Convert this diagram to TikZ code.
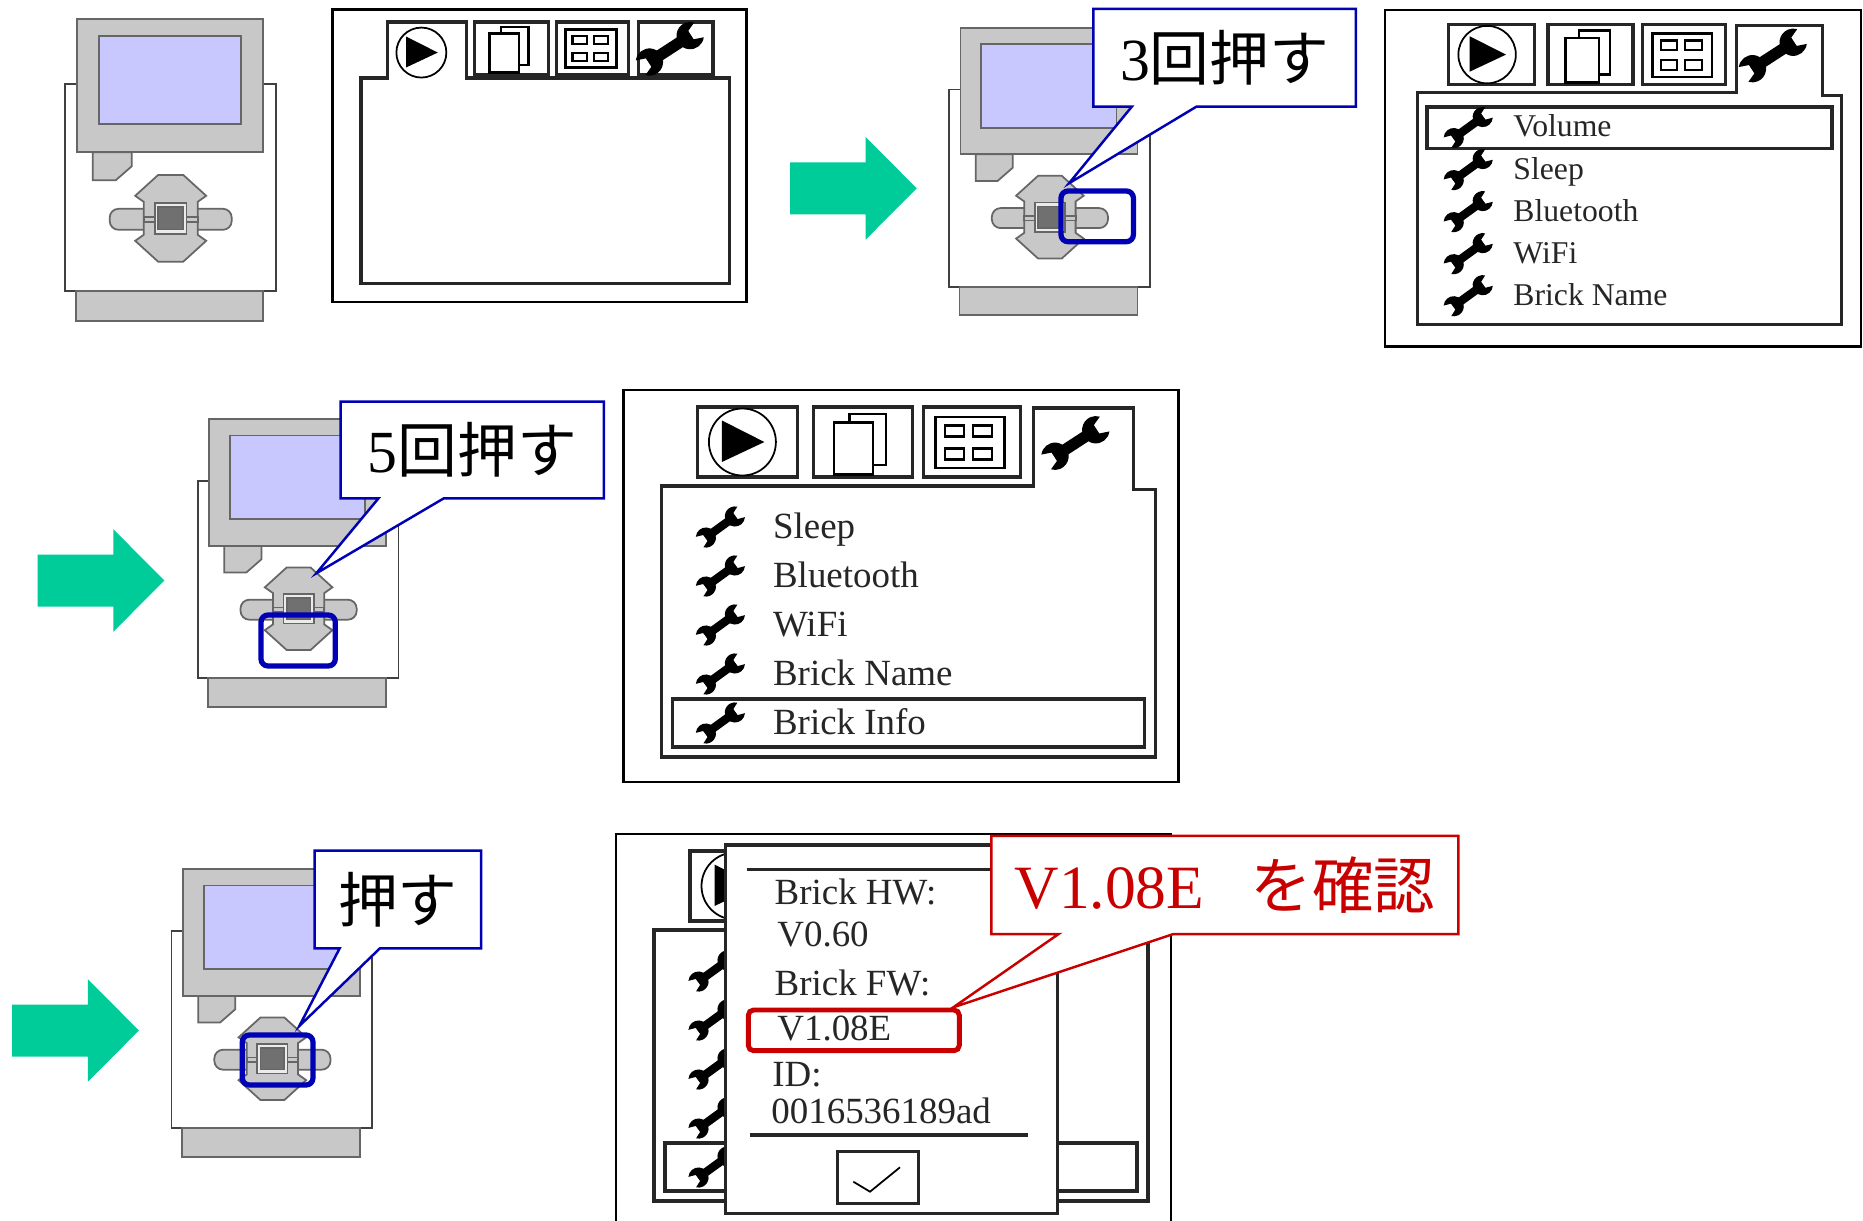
\documentclass[tikz,border=0pt]{standalone}
\usepackage{fontspec}
\setmainfont{Liberation Serif}
\newfontfamily\jpfont{Noto Sans CJK JP}
\usetikzlibrary{shapes.callouts}

\definecolor{bricklight}{RGB}{200,200,200}
\definecolor{brickdark}{RGB}{112,112,112}
\definecolor{lcdblue}{RGB}{200,200,255}
\definecolor{arrowgreen}{RGB}{0,204,153}
\definecolor{markblue}{RGB}{0,0,180}
\definecolor{markred}{RGB}{200,0,0}

% EV3 brick, top left corner at (#1,#2), scaled by #3
\newcommand{\drawbrick}[3]{%
  \begin{scope}[shift={(#1,#2)}, scale=#3]
    \draw[brickbody] (0,65) rectangle (211,272);
    \draw[brickpart] (11,272) rectangle (198,302);
    \draw[brickpart] (12,0) rectangle (198,133);
    \draw[lcdscreen] (34,17) rectangle (176,105);
    \draw[brickpart] (28,133) -- (67,133) -- (67,147) -- (51,161) -- (28,161) -- cycle;
    % button pad
    \begin{scope}[shift={(106,199)}]
      \draw[brickpart, rounded corners=2.5pt] (-27,-9.5) -- (-61,-9.5) -- (-61,11.5) -- (-27,11.5);
      \draw[brickpart, rounded corners=2.5pt] (27,-9.5) -- (61,-9.5) -- (61,11.5) -- (27,11.5);
      \draw[brickpart] (-12.5,-43.4) -- (12.5,-43.4) -- (35.5,-22.5) -- (27,-16.5) -- (27,16.5)
        -- (35.5,22.5) -- (12.5,43.4) -- (-12.5,43.4) -- (-35.5,22.5) -- (-27,16.5)
        -- (-27,-16.5) -- (-35.5,-22.5) -- cycle;
      \draw[brickpart] (-27,-1.2) rectangle (27,3.4);
      \draw[brickpart, fill=black!8] (-15.8,-15.4) rectangle (15.8,15.4);
      \draw[brickpart, fill=brickdark] (-12.5,-11.2) rectangle (12.5,11.2);
    \end{scope}
  \end{scope}}

% display with its four tabs, #1 = open tab (1 or 4)
\newcommand{\lcdtabs}[1]{%
  \draw[lcdframe] (0,0) rectangle (555,392);
  \ifnum#1=1
    \draw[lcdline] (38,92) -- (74,92) -- (74,17) -- (180,17) -- (180,92) -- (532,92) -- (532,367) -- (38,367) -- cycle;
    \def\playy{58}
  \else
    \draw[lcdline] (74,17) rectangle (174,87);
    \def\playy{52}
  \fi
  \draw[lcdline] (190,17) rectangle (289,87);
  \draw[lcdline] (300,17) rectangle (397,87);
  \ifnum#1=4
    \draw[lcdline] (38,96) -- (410,96) -- (410,18) -- (510,18) -- (510,99.5) -- (532,99.5) -- (532,367) -- (38,367) -- cycle;
  \else
    \draw[lcdline] (410,17) rectangle (510,87);
  \fi
  % tab icons
  \draw[line width=0.5pt] (119,\playy) circle[radius=33.5];
  \fill (98.5,{\playy-21.5}) -- (98.5,{\playy+20}) -- (141,\playy) -- cycle;
  \draw[line width=0.7pt] (226,24) rectangle (262.5,75);
  \draw[line width=0.7pt, fill=white] (210.5,32.5) rectangle (249.5,84.5);
  \draw[line width=0.8pt] (312,27) rectangle (381,78);
  \foreach \gx in {321.5,350}
    \foreach \gy in {35.5,58.5}
      \draw[line width=0.6pt] (\gx,\gy) rectangle ++(19,11);
  \pic[scale=76, rotate=33] at (452,53) {wrench};}

% menu line #1 with node name #2 and label #3
\newcommand{\menuitem}[3]{%
  \pic[scale=56, rotate=36] at (97,{137+49*(#1-1)}) {wrench};
  \node[menutext] (#2) at (149,{148+49*(#1-1)}) {#3};}

% frame round the selected menu line
\newcommand{\menupick}[1]{%
  \draw[lcdline] (49,{113+49*(#1-1)}) rectangle (521,{161+49*(#1-1)});}

\begin{document}
\begin{tikzpicture}[
    x=0.01cm, y=-0.01cm,
    brickbody/.style={draw=black!75, fill=white, line width=0.5pt},
    brickpart/.style={draw=black!60, fill=bricklight, line width=0.5pt},
    lcdscreen/.style={draw=black!60, fill=lcdblue, line width=0.5pt},
    lcdframe/.style={draw=black, line width=0.7pt},
    lcdline/.style={draw=black!85, line width=0.9pt},
    menutext/.style={anchor=base west, inner sep=0pt, transform shape,
      text=black!85, font=\fontsize{10.5}{12}\selectfont},
    infotext/.style={anchor=base west, inner sep=0pt,
      text=black!85, font=\fontsize{10.5}{12}\selectfont},
    bluemark/.style={draw=markblue, line width=1.5pt, rounded corners=2pt},
    redmark/.style={draw=markred, line width=1.4pt, rounded corners=1.5pt},
    tipbox/.style={rectangle callout, fill=white, line width=0.7pt, inner sep=0pt},
    bluetip/.style={tipbox, draw=markblue, font=\fontsize{17}{20}\selectfont},
    redtip/.style={tipbox, draw=markred, text=markred, font=\fontsize{17.5}{20}\selectfont},
    wrench/.pic={
      \fill (-0.33,-0.075) rectangle (0.33,0.075);
      \fill (0.32,0) ++(40:0.18) arc[start angle=40, end angle=320, radius=0.18]
        -- (0.33,-0.065) -- (0.33,0.065) -- cycle;
      \fill (-0.32,0) ++(220:0.18) arc[start angle=220, end angle=500, radius=0.18]
        -- (-0.33,0.065) -- (-0.33,-0.065) -- cycle;
    },
    nextarrow/.pic={
      \fill[arrowgreen] (0,-26) -- (75.7,-26) -- (75.7,-51.3) -- (126.7,0)
        -- (75.7,51.3) -- (75.7,26) -- (0,26) -- cycle;
    }
  ]
  \useasboundingbox (0,0) rectangle (1863,1221);

% --- first row: start screen, right button ---
  \drawbrick{64.7}{19.3}{1}
  \begin{scope}[shift={(332.6,9.3)}, scale=0.746]
    \lcdtabs{1}
  \end{scope}

  \pic (arrow1) at (790,188.3) {nextarrow};
  \drawbrick{949}{27.7}{0.952}
  \draw[bluemark] (1061,191) rectangle (1133.4,241.7);
  \coordinate (righttip) at (1069,183.3);
  \node[bluetip, callout absolute pointer={(righttip)}, callout pointer width=0.645cm,
    minimum width=2.623cm, minimum height=0.977cm] (press3) at (1224.65,57.85) {3{\jpfont 回押す}};

  \begin{scope}[shift={(1385,10)}, scale=0.858]
    \lcdtabs{4}
    \menupick{1}
    \menuitem{1}{volume}{Volume}
    \menuitem{2}{sleepA}{Sleep}
    \menuitem{3}{btA}{Bluetooth}
    \menuitem{4}{wifiA}{WiFi}
    \menuitem{5}{nameA}{Brick Name}
  \end{scope}

% --- second row: down button ---
  \pic (arrow2) at (37.6,580.5) {nextarrow};
  \drawbrick{197.7}{419.3}{0.952}
  \draw[bluemark] (261,615) rectangle (335.3,666);
  \coordinate (downtip) at (316.3,573.3);
  \node[bluetip, callout absolute pointer={(downtip)}, callout pointer width=0.653cm,
    minimum width=2.63cm, minimum height=0.966cm] (press5) at (472.3,450) {5{\jpfont 回押す}};

  \begin{scope}[shift={(623.4,390)}]
    \lcdtabs{4}
    \menupick{5}
    \menuitem{1}{sleepB}{Sleep}
    \menuitem{2}{btB}{Bluetooth}
    \menuitem{3}{wifiB}{WiFi}
    \menuitem{4}{nameB}{Brick Name}
    \menuitem{5}{infoB}{Brick Info}
  \end{scope}

% --- third row: centre button, brick info ---
  \pic (arrow3) at (12.2,1030.5) {nextarrow};
  \drawbrick{171.5}{869.3}{0.952}
  \draw[bluemark] (242.3,1035) rectangle (313,1085);
  \coordinate (entertip) at (299.3,1026);
  \node[bluetip, callout absolute pointer={(entertip)}, callout pointer width=0.402cm,
    minimum width=1.664cm, minimum height=0.976cm] (press1) at (397.8,899.5) {{\jpfont 押す}};

  \begin{scope}[shift={(616,834)}]
    \lcdtabs{4}
    \menupick{5}
    \foreach \r in {1,...,5}
      \pic[scale=56, rotate=36] at (97,{137+49*(\r-1)}) {wrench};
  \end{scope}

  % info dialog
  \draw[lcdline, fill=white] (725.7,845) rectangle (1057.3,1213.3);
  \draw[lcdline] (746.7,869.3) -- (1037,869.3);
  \draw[lcdline] (750,1135) -- (1028.3,1135);
  \node[infotext] (hwlabel) at (774,904) {Brick HW:};
  \node[infotext] (hwver) at (776.7,946.7) {V0.60};
  \node[infotext] (fwlabel) at (774,995) {Brick FW:};
  \node[infotext] (fwver) at (776.7,1040.7) {V1.08E};
  \node[infotext] (idlabel) at (771.7,1086.7) {ID:};
  \node[infotext] (idval) at (770.7,1123.3) {0016536189ad};
  \draw[lcdline] (837.3,1151.7) rectangle (918.3,1203.3);
  \draw[line width=0.5pt] (853.3,1181.7) -- (870,1191.7) -- (900,1167.3);

  \draw[redmark] (748.3,1010) rectangle (959.3,1050.7);
  \coordinate (fwtip) at (953.3,1007.3);
  \node[redtip, callout absolute pointer={(fwtip)}, callout pointer width=1.148cm,
    minimum width=4.667cm, minimum height=0.98cm] (checkfw) at (1224.85,885)
    {V1.08E\hspace{0.75em}{\jpfont を確認}};

\end{tikzpicture}
\end{document}
